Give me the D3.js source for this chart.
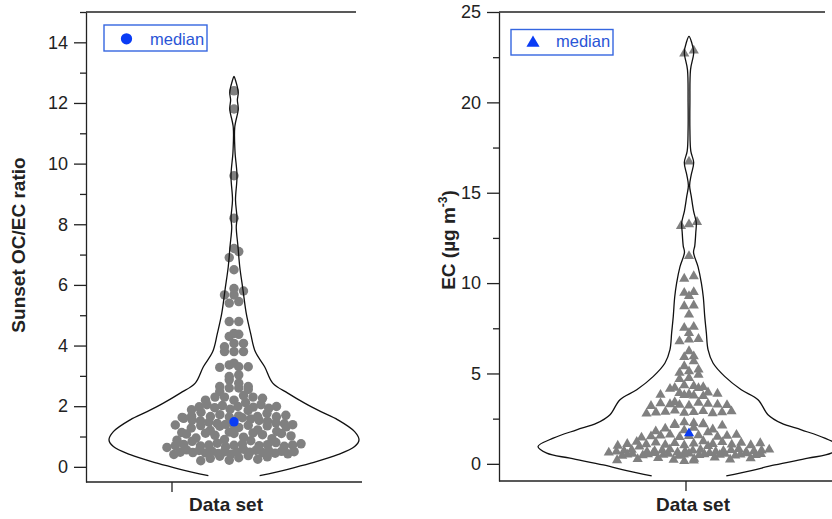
<!DOCTYPE html>
<html>
<head>
<meta charset="utf-8">
<script src="https://cdn.jsdelivr.net/npm/d3@7"></script>
<style>
  body { margin: 0; background: #fff; }
  text { font-family: "Liberation Sans", Arial, sans-serif; }
</style>
</head>
<body>
<svg id="chart" width="832" height="519"></svg>
<script>
// sunset OC/EC ratio samples
let ratioValues = [
  12.4, 11.8, 9.6, 8.2, 7.2, 7.1, 6.9, 6.5, 5.88, 5.8, 5.67, 5.67, 5.45, 5.4, 4.79, 4.79,
  4.4, 4.37, 4.3, 4.07, 4.07, 3.96, 3.8, 3.8, 3.8, 3.42, 3.36, 3.3, 3.3, 3.28, 3.03, 2.98,
  2.87, 2.76, 2.65, 2.65, 2.6, 2.6, 2.55, 2.48, 2.35, 2.3, 2.3, 2.3, 2.26, 2.2, 2.2, 2.12,
  2.05, 2.05, 2.02, 1.99, 1.99, 1.98, 1.97, 1.95, 1.93, 1.9, 1.88, 1.86,
  1.8, 1.76, 1.72, 1.7, 1.68, 1.67, 1.66, 1.66, 1.65, 1.64, 1.63, 1.62, 1.6, 1.58, 1.55, 1.53, 1.52, 1.5,
  1.47, 1.45, 1.43, 1.42, 1.4, 1.39, 1.38, 1.38, 1.37, 1.36, 1.35, 1.34, 1.32, 1.3, 1.28,
  1.22, 1.2, 1.17, 1.15, 1.13, 1.12, 1.11, 1.1, 1.1, 1.08, 1.06, 1.04, 1.02,
  0.98, 0.95, 0.93, 0.9, 0.88, 0.86, 0.84,
  0.8, 0.78, 0.76, 0.75, 0.74, 0.73, 0.72, 0.72, 0.71, 0.7, 0.7, 0.69, 0.68, 0.66, 0.64,
  0.58, 0.56, 0.55, 0.54, 0.53, 0.52, 0.51, 0.5, 0.5, 0.49, 0.48, 0.48, 0.47, 0.47, 0.46,
  0.45, 0.44, 0.43, 0.42, 0.41,
  0.37, 0.35, 0.33, 0.3, 0.28, 0.25, 0.22, 0.2
]

// EC samples in ug/m3 (read from the triangles)
let ecValues = [
  22.86, 22.7, 16.72, 13.38, 13.25, 13.16, 11.49, 10.38, 10.24, 9.5, 9.46, 9.28, 8.76, 8.72,
  8.26, 7.58, 7.52, 7.24, 6.91, 6.87, 6.78, 6.23, 5.95, 5.91, 5.67, 5.4, 5.21, 5.12, 5.03,
  4.93, 4.75, 4.69,
  4.35, 4.3, 4.25, 4.2, 4.19, 4.15,
  3.95, 3.92, 3.88, 3.85, 3.82, 3.8, 3.78, 3.75,
  3.42, 3.38, 3.35, 3.32, 3.3, 3.28, 3.26, 3.25, 3.22, 3.2,
  2.95, 2.92, 2.9, 2.88, 2.86, 2.85, 2.84, 2.82, 2.8, 2.78,
  2.3, 2.25, 2.22, 2.2, 2.18, 2.15, 2.12,
  2.0, 1.95, 1.9, 1.85, 1.8, 1.75,
  1.62, 1.6, 1.58, 1.56, 1.55, 1.54, 1.52, 1.5, 1.48, 1.45,
  1.25, 1.22, 1.2, 1.18, 1.16, 1.15, 1.14, 1.12, 1.1, 1.1, 1.08, 1.06, 1.05, 1.03, 1.02, 1.0, 0.98, 0.95,
  0.82, 0.8, 0.79, 0.78, 0.77, 0.76, 0.75, 0.74, 0.73, 0.72, 0.71, 0.7, 0.7, 0.69, 0.68, 0.67,
  0.66, 0.65, 0.64, 0.62,
  0.6, 0.59, 0.58, 0.57, 0.56, 0.55, 0.55, 0.54, 0.53, 0.53, 0.52, 0.51, 0.51, 0.5, 0.5, 0.49,
  0.48, 0.47, 0.46, 0.45, 0.44,
  0.35, 0.32, 0.3, 0.28, 0.26, 0.24, 0.22, 0.2, 0.18, 0.15
]

// violin outline: [value, relative density]
let ratioDensity = [
  [-0.29, 0.205], [-0.08, 0.43], [0.12, 0.615], [0.4, 0.83], [0.67, 0.965], [0.89, 1.0],
  [1.16, 0.965], [1.55, 0.83], [1.82, 0.695], [2.1, 0.565], [2.43, 0.43], [2.76, 0.31],
  [3.3, 0.245], [3.8, 0.17], [4.4, 0.133], [5.06, 0.098], [5.83, 0.072], [6.6, 0.046],
  [7.26, 0.032], [7.9, 0.018], [8.2, 0.024], [8.8, 0.012], [9.6, 0.024], [10.4, 0.008],
  [11.2, 0.006], [11.8, 0.034], [12.1, 0.027], [12.35, 0.034], [12.75, 0.012], [12.88, 0]
]
let ecDensity = [
  [-0.67, 0.247], [-0.37, 0.413], [-0.06, 0.568], [0.31, 0.788], [0.59, 0.942], [0.96, 1.0],
  [1.42, 0.899], [1.88, 0.744], [2.25, 0.611], [2.72, 0.523], [3.55, 0.457], [4.1, 0.346],
  [4.84, 0.236], [5.58, 0.159], [6.32, 0.126], [7.24, 0.115], [8.17, 0.104], [9.2, 0.095],
  [10.0, 0.082], [10.9, 0.06], [11.7, 0.03], [12.05, 0.038], [12.8, 0.045], [13.35, 0.048],
  [14.0, 0.03], [14.8, 0.015], [15.4, 0.004], [16.0, 0.015], [16.67, 0.031], [17.3, 0.012],
  [18.5, 0.006], [20.0, 0.006], [21.8, 0.01], [22.77, 0.031], [23.3, 0.018], [23.65, 0]
]

let ratioMajor = [0, 2, 4, 6, 8, 10, 12, 14]
let ratioMinor = [1, 3, 5, 7, 9, 11, 13, 15]
let ecMajor = [0, 5, 10, 15, 20, 25]
let ecMinor = [2.5, 7.5, 12.5, 17.5, 22.5]

let svg = d3.select("#chart")
let ink = "#222"
let dotGray = "#808080"
let blue = "#0a3cf5"
let legendBlue = "#3566e0"

let gcd = (a, b) => b ? gcd(b, a % b) : a

// dots are grouped in value bins and spread sideways inside each bin,
// the spread is limited to a share of the violin width at that level
let jitter = (values, cfg, hwAt) => {
  let xs = new Array(values.length)
  let bins = d3.group(values.map((v, i) => i), i => Math.round(values[i] / cfg.binV))
  bins.forEach(idx => {
    idx.sort((a, b) => values[a] - values[b])
    let n = idx.length
    if (n === 1) { xs[idx[0]] = 0; return }
    let vMid = d3.mean(idx, i => values[i])
    let cap = Math.max(2 * cfg.frac * hwAt(vMid), cfg.minSpread)
    let W = Math.min((n - 1) * cfg.spacing, cap)
    let step = 1
    for (let s = Math.max(1, Math.round(n / 2.6)); s < n; s++) {
      if (gcd(s, n) === 1) { step = s; break }
    }
    idx.forEach((i, k) => {
      let p = (k * step) % n
      xs[i] = -W / 2 + p * W / (n - 1)
    })
  })
  return xs
}

let drawPanel = (cfg) => {
  let g = svg.append("g")
  let y = d3.scaleLinear().domain(cfg.domain).range([cfg.yBot, cfg.yTop])
  let w = d3.scaleLinear().domain([0, 1]).range([0, cfg.maxHW])
  let hwAt = d3.scaleLinear()
    .domain(cfg.density.map(d => d[0]))
    .range(cfg.density.map(d => w(d[1])))
    .clamp(true)

  // points
  let xs = jitter(cfg.values, cfg, hwAt)
  let sym = d3.symbol().type(cfg.symbol).size(cfg.symSize)
  g.append("g").selectAll("path").data(cfg.values)
    .enter()
    .append("path")
    .attr("d", sym)
    .attr("transform", (v, i) => "translate(" + (cfg.cx + xs[i]) + "," + y(v) + ")")
    .attr("fill", dotGray)

  // violin outline
  let left = cfg.density.map(d => [cfg.cx - w(d[1]), y(d[0])])
  let right = cfg.density.slice(0, -1).reverse().map(d => [cfg.cx + w(d[1]), y(d[0])])
  g.append("path")
    .attr("d", d3.line().curve(d3.curveCatmullRom.alpha(0.5))(left.concat(right)))
    .attr("fill", "none")
    .attr("stroke", "#111")
    .attr("stroke-width", 1.3)

  // median marker
  let med = d3.median(cfg.values)
  g.append("path")
    .attr("d", sym)
    .attr("transform", "translate(" + cfg.cx + "," + y(med) + ")")
    .attr("fill", blue)

  // y axis: major with labels, minor without
  let major = g.append("g")
    .attr("transform", "translate(" + cfg.x0 + ",0)")
    .call(d3.axisLeft(y).tickValues(cfg.major).tickSize(12).tickSizeOuter(0).tickPadding(6))
  major.selectAll("text").attr("font-size", 18).attr("fill", ink)
    .attr("font-family", "Liberation Sans, Arial, sans-serif")
  major.selectAll("line, path").attr("stroke", ink).attr("stroke-width", 1.3)
  let minor = g.append("g")
    .attr("transform", "translate(" + cfg.x0 + ",0)")
    .call(d3.axisLeft(y).tickValues(cfg.minor).tickSize(6).tickFormat(""))
  minor.select(".domain").remove()
  minor.selectAll("line").attr("stroke", ink).attr("stroke-width", 1.3)

  // top frame and bottom axis
  g.append("line").attr("x1", cfg.x0).attr("x2", cfg.topEnd)
    .attr("y1", cfg.yTop).attr("y2", cfg.yTop)
    .attr("stroke", ink).attr("stroke-width", 1.3)
  g.append("line").attr("x1", cfg.x0).attr("x2", cfg.x1)
    .attr("y1", cfg.yBot).attr("y2", cfg.yBot)
    .attr("stroke", ink).attr("stroke-width", 1.3)
  g.append("line").attr("x1", cfg.tickX).attr("x2", cfg.tickX)
    .attr("y1", cfg.yBot).attr("y2", cfg.yBot + 10)
    .attr("stroke", ink).attr("stroke-width", 1.3)

  g.append("text")
    .attr("x", cfg.labelX).attr("y", 511)
    .attr("text-anchor", "middle")
    .attr("font-size", 19).attr("font-weight", "bold").attr("fill", ink)
    .text("Data set")

  // legend
  let lg = cfg.legend
  g.append("rect").attr("x", lg.x).attr("y", lg.y).attr("width", lg.w).attr("height", lg.h)
    .attr("fill", "none").attr("stroke", legendBlue).attr("stroke-width", 1.4)
  g.append("path")
    .attr("d", d3.symbol().type(cfg.symbol).size(lg.symSize))
    .attr("transform", "translate(" + lg.mx + "," + lg.my + ")")
    .attr("fill", blue)
  g.append("text").attr("x", lg.tx).attr("y", lg.ty)
    .attr("font-size", 16.5).attr("fill", "#2a55d6")
    .text("median")

  return g
}

let gl = drawPanel({
  values: ratioValues, density: ratioDensity, domain: [-0.5, 15],
  major: ratioMajor, minor: ratioMinor,
  x0: 86, x1: 362, topEnd: 356, yTop: 12, yBot: 482,
  cx: 234, maxHW: 125, tickX: 172, labelX: 226,
  symbol: d3.symbolCircle, symSize: 70,
  binV: 0.25, spacing: 9.5, frac: 0.55, minSpread: 24,
  legend: {x: 104, y: 25, w: 103, h: 26, mx: 126.5, my: 38.8, symSize: 100, tx: 150, ty: 45}
})
gl.append("text")
  .attr("transform", "translate(25,245) rotate(-90)")
  .attr("text-anchor", "middle")
  .attr("font-size", 19).attr("font-weight", "bold").attr("fill", ink)
  .text("Sunset OC/EC ratio")

let gr = drawPanel({
  values: ecValues, density: ecDensity, domain: [-0.95, 25],
  major: ecMajor, minor: ecMinor,
  x0: 499, x1: 832, topEnd: 825, yTop: 12, yBot: 481,
  cx: 689, maxHW: 151, tickX: 686, labelX: 693,
  symbol: d3.symbolTriangle, symSize: 45,
  binV: 0.4, spacing: 9.5, frac: 0.55, minSpread: 16,
  legend: {x: 511, y: 29.5, w: 102, h: 25.5, mx: 533, my: 43, symSize: 75, tx: 556, ty: 47}
})
let ecLabel = gr.append("text")
  .attr("transform", "translate(455,240) rotate(-90)")
  .attr("text-anchor", "middle")
  .attr("font-size", 19).attr("font-weight", "bold").attr("fill", ink)
ecLabel.append("tspan").text("EC (µg m")
ecLabel.append("tspan").attr("dy", -8).attr("font-size", 12).text("-3")
ecLabel.append("tspan").attr("dy", 8).text(")")
</script>
</body>
</html>
